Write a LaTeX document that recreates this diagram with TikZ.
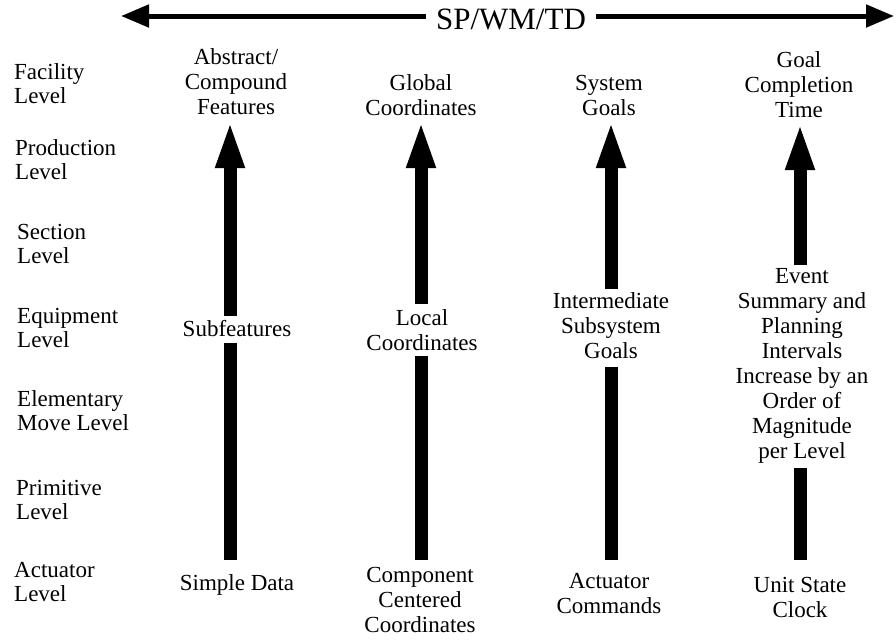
\documentclass[tikz,border=0pt]{standalone}
\usepackage{fontspec}
\setmainfont{Liberation Serif}
\usetikzlibrary{arrows.meta}

\begin{document}
\begin{tikzpicture}[x=1pt,y=-1pt,
  lbl/.style={font=\fontsize{23}{25}\selectfont, align=center, inner sep=0pt},
  lvl/.style={font=\fontsize{23}{24}\selectfont, align=left, inner sep=0pt, anchor=west},
  shaft/.style={line width=13pt},
  uparrow/.style={shaft, -{Triangle[length=48pt,width=26pt]}},
  spanarrow/.style={line width=5pt, -{Triangle[length=28pt,width=22pt]}},
  ]
\useasboundingbox (0,0) rectangle (896,641);

% heading with a double-headed span arrow
\node[font=\fontsize{31}{32}\selectfont, inner ysep=0pt, inner xsep=10pt] (title) at (511,19) {SP/WM/TD};
\coordinate (tl) at (121,16);
\coordinate (tr) at (894,16);
\draw[spanarrow] (title.west |- tl) -- (tl);
\draw[spanarrow] (title.east |- tr) -- (tr);

% hierarchy levels
\node[lvl] (l1) at (14,84)  {Facility\\Level};
\node[lvl] (l2) at (15,160) {Production\\Level};
\node[lvl] (l3) at (17,244) {Section\\Level};
\node[lvl] (l4) at (17,328) {Equipment\\Level};
\node[lvl] (l5) at (17,411) {Elementary\\Move Level};
\node[lvl] (l6) at (16,500) {Primitive\\Level};
\node[lvl] (l7) at (14,582) {Actuator\\Level};

% column 1: features
\node[lbl] (c1top) at (236,81.5) {Abstract/\\Compound\\Features};
\node[lbl] (c1mid) at (237,329) {Subfeatures};
\node[lbl] (c1bot) at (237,585) {Simple Data};
\coordinate (c1a) at (230,560);
\coordinate (c1b) at (230,343);
\coordinate (c1c) at (230,316);
\coordinate (c1d) at (230,120);
\draw[shaft] (c1a) -- (c1b);
\draw[uparrow] (c1c) -- (c1d);

% column 2: coordinates
\node[lbl] (c2top) at (421,95) {Global\\Coordinates};
\node[lbl] (c2mid) at (422,330) {Local\\Coordinates};
\node[lbl] (c2bot) at (420,600) {Component\\Centered\\Coordinates};
\coordinate (c2a) at (421,560);
\coordinate (c2b) at (421,356);
\coordinate (c2c) at (421,304);
\coordinate (c2d) at (421,120);
\draw[shaft] (c2a) -- (c2b);
\draw[uparrow] (c2c) -- (c2d);

% column 3: goals
\node[lbl] (c3top) at (609,95) {System\\Goals};
\node[lbl] (c3mid) at (611,326) {Intermediate\\Subsystem\\Goals};
\node[lbl] (c3bot) at (609,594) {Actuator\\Commands};
\coordinate (c3a) at (611,560);
\coordinate (c3b) at (611,367);
\coordinate (c3c) at (611,289);
\coordinate (c3d) at (611,120);
\draw[shaft] (c3a) -- (c3b);
\draw[uparrow] (c3c) -- (c3d);

% column 4: time
\node[lbl] (c4top) at (799,85) {Goal\\Completion\\Time};
\node[lbl] (c4mid) at (802,366) {Event\\Summary and\\Planning\\Intervals\\Increase by an\\Order of\\Magnitude\\per Level};
\node[lbl] (c4bot) at (800,597) {Unit State\\Clock};
\coordinate (c4a) at (800,560);
\coordinate (c4b) at (800,468);
\coordinate (c4c) at (800,265);
\coordinate (c4d) at (800,122);
\draw[shaft] (c4a) -- (c4b);
\draw[uparrow] (c4c) -- (c4d);
\end{tikzpicture}
\end{document}
